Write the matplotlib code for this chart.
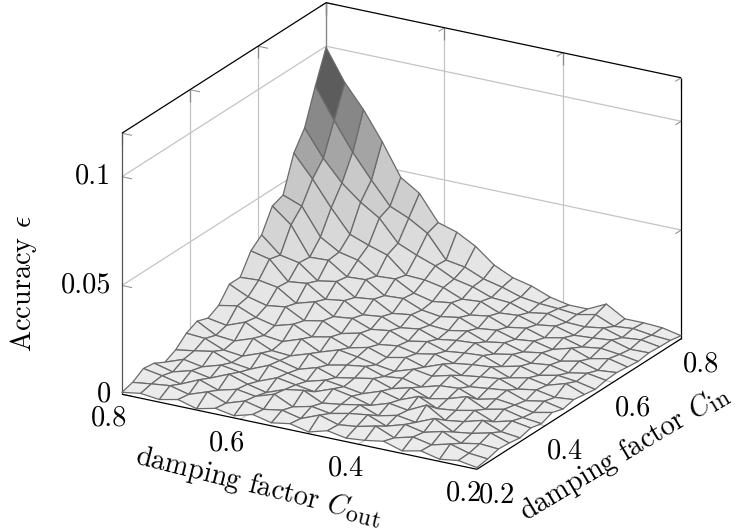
#!/usr/bin/env python3
import numpy as np
import matplotlib
matplotlib.use("Agg")
import matplotlib.pyplot as plt
import matplotlib._mathtext as mathtext_internals
from matplotlib.colors import LinearSegmentedColormap
from mpl_toolkits.mplot3d import proj3d

plt.rcParams["font.family"] = ["cmr10", "DejaVu Serif"]
plt.rcParams["mathtext.fontset"] = "cm"
mathtext_internals.SHRINK_FACTOR = 0.85  # subscripts are large in the original

c_in = np.linspace(0.8, 0.2, 20)
c_out = np.linspace(0.8, 0.2, 20)
accuracy = np.array([
    [.0994, .0851, .0745, .0616, .0469, .0414, .0298, .0272, .0225, .0157, .0117, .0097, .0064, .0046, .0046, .0087, .0037, .0037, .0032, .0014],
    [.0848, .0709, .0580, .0470, .0368, .0331, .0280, .0175, .0161, .0125, .0105, .0078, .0066, .0061, .0052, .0070, .0034, .0042, .0030, .0024],
    [.0687, .0566, .0470, .0400, .0345, .0248, .0211, .0180, .0138, .0120, .0089, .0083, .0056, .0070, .0048, .0045, .0058, .0032, .0040, .0026],
    [.0603, .0502, .0387, .0284, .0252, .0225, .0151, .0147, .0130, .0095, .0102, .0068, .0075, .0050, .0062, .0038, .0044, .0052, .0028, .0030],
    [.0442, .0409, .0285, .0234, .0215, .0160, .0165, .0118, .0098, .0110, .0072, .0085, .0052, .0066, .0040, .0058, .0034, .0046, .0036, .0022],
    [.0423, .0354, .0224, .0228, .0170, .0175, .0120, .0125, .0090, .0078, .0092, .0060, .0070, .0046, .0056, .0036, .0060, .0030, .0048, .0028],
    [.0322, .0247, .0230, .0165, .0180, .0125, .0135, .0088, .0100, .0070, .0064, .0080, .0048, .0062, .0038, .0052, .0032, .0050, .0026, .0034],
    [.0280, .0260, .0175, .0185, .0130, .0142, .0095, .0105, .0072, .0084, .0055, .0068, .0074, .0042, .0058, .0036, .0046, .0028, .0044, .0030],
    [.0190, .0195, .0180, .0125, .0150, .0100, .0110, .0078, .0090, .0060, .0076, .0050, .0060, .0066, .0034, .0054, .0030, .0048, .0038, .0020],
    [.0190, .0150, .0128, .0140, .0095, .0112, .0072, .0092, .0058, .0070, .0052, .0068, .0044, .0056, .0064, .0032, .0050, .0034, .0060, .0028],
    [.0124, .0140, .0105, .0085, .0110, .0070, .0088, .0056, .0076, .0048, .0066, .0040, .0072, .0038, .0050, .0060, .0030, .0044, .0028, .0036],
    [.0097, .0082, .0115, .0072, .0062, .0092, .0050, .0078, .0064, .0046, .0034, .0062, .0048, .0070, .0036, .0046, .0056, .0026, .0042, .0024],
    [.0115, .0068, .0060, .0090, .0052, .0046, .0074, .0040, .0058, .0070, .0042, .0052, .0030, .0054, .0060, .0028, .0048, .0038, .0022, .0040],
    [.0091, .0085, .0050, .0040, .0072, .0056, .0034, .0060, .0032, .0048, .0064, .0036, .0058, .0026, .0044, .0072, .0032, .0050, .0030, .0020],
    [.0046, .0060, .0075, .0042, .0030, .0066, .0048, .0028, .0052, .0040, .0026, .0056, .0034, .0068, .0030, .0040, .0058, .0024, .0046, .0032],
    [.0021, .0052, .0036, .0062, .0048, .0024, .0058, .0044, .0030, .0062, .0046, .0022, .0050, .0036, .0078, .0026, .0038, .0062, .0028, .0018],
    [.0048, .0026, .0050, .0034, .0070, .0042, .0022, .0054, .0068, .0028, .0040, .0056, .0024, .0044, .0030, .0066, .0022, .0034, .0054, .0026],
    [.0055, .0040, .0020, .0058, .0028, .0050, .0036, .0064, .0024, .0044, .0030, .0048, .0060, .0026, .0052, .0034, .0056, .0020, .0036, .0030],
    [.0023, .0034, .0044, .0022, .0052, .0018, .0046, .0026, .0040, .0020, .0054, .0028, .0038, .0058, .0022, .0044, .0026, .0048, .0024, .0016],
    [.0009, .0022, .0012, .0030, .0006, .0026, .0010, .0034, .0014, .0028, .0008, .0032, .0016, .0024, .0038, .0012, .0030, .0010, .0022, .0008],
])
xy_ticks = [0.2, 0.4, 0.6, 0.8]
xy_labels = ["0.2", "0.4", "0.6", "0.8"]
z_ticks = [0, 0.05, 0.1]
z_labels = ["0", "0.05", "0.1"]

X_LO, X_HI = 0.2, 0.8
Z_LO, Z_HI = 0, 0.12
FRAME = "black"
GRID = "#c4c4c4"
TICK = "#8a8a8a"
CMAP_TOP = 0.085

# grey steps as in the original, stops given in accuracy units
stops = [(0, "#ececec"), (0.018, "#e4e4e4"), (0.03, "#d8d8d8"), (0.042, "#cbcbcb"),
         (0.05, "#c8c8c8"), (0.057, "#a6a6a6"), (0.061, "#a4a4a4"), (0.069, "#8a8a8a"),
         (0.073, "#868686"), (0.085, "#5c5c5c")]
cmap = LinearSegmentedColormap.from_list("acc", [(v / CMAP_TOP, c) for v, c in stops])

fig = plt.figure(figsize=(7.36, 5.31), dpi=100)
# oversized square axes, the box is placed with zoom and the axes position
side = 900
ax = fig.add_axes([(401.5 - 0.5135 * side) / 736, (295 - 0.5135 * side) / 531,
                   side / 736, side / 531], projection="3d")
ax.set_proj_type("ortho")
ax.view_init(elev=21.57, azim=-60.1)
ax.set_box_aspect((409.6, 409.6, 280.7), zoom=624.8 / side)
ax.set_xlim(X_HI, X_LO)
ax.set_ylim(X_LO, X_HI)
ax.set_zlim(Z_LO, Z_HI)
ax.set_axis_off()
ax.computed_zorder = False


def seg(x, y, z, color, lw=0.9, zorder=1):
    ax.plot(x, y, z, color=color, lw=lw, zorder=zorder, solid_capstyle="butt")


# grid on back walls and floor
for t in xy_ticks[1:-1]:
    seg([X_HI, X_HI], [t, t], [Z_LO, Z_HI], GRID)
    seg([t, t], [X_HI, X_HI], [Z_LO, Z_HI], GRID)
    seg([X_LO, X_HI], [t, t], [Z_LO, Z_LO], GRID)
    seg([t, t], [X_LO, X_HI], [Z_LO, Z_LO], GRID)
for t in z_ticks[1:]:
    seg([X_HI, X_HI], [X_LO, X_HI], [t, t], GRID)
    seg([X_LO, X_HI], [X_HI, X_HI], [t, t], GRID)

# tick marks
dxy = 0.017
dz = 0.0055
for t in xy_ticks:
    seg([X_HI, X_HI - dxy], [t, t], [Z_HI, Z_HI], TICK, 0.7)
    seg([t, t], [X_HI, X_HI - dxy], [Z_HI, Z_HI], TICK, 0.7)
    seg([X_HI, X_HI], [t, t], [Z_HI, Z_HI - dz], TICK, 0.9)
    seg([t, t], [X_HI, X_HI], [Z_HI, Z_HI - dz], TICK, 0.9)
for t in z_ticks:
    seg([X_HI, X_HI - dxy], [X_LO, X_LO], [t, t], TICK, 0.7)
    seg([X_LO, X_LO], [X_HI, X_HI - dxy], [t, t], TICK, 0.7)

# box
seg([X_HI, X_HI], [X_LO, X_LO], [Z_LO, Z_HI], "#555555")
seg([X_HI, X_HI], [X_HI, X_HI], [Z_LO, Z_HI], "#888888", 1.0)
seg([X_LO, X_LO], [X_HI, X_HI], [Z_LO, Z_HI], FRAME)
seg([X_HI, X_HI], [X_LO, X_HI], [Z_HI, Z_HI], FRAME)
seg([X_HI, X_LO], [X_HI, X_HI], [Z_HI, Z_HI], FRAME)
seg([X_HI, X_LO], [X_LO, X_LO], [Z_LO, Z_LO], FRAME)
seg([X_LO, X_LO], [X_LO, X_HI], [Z_LO, Z_LO], FRAME)

Cout, Cin = np.meshgrid(c_out, c_in)
cell = (accuracy[:-1, :-1] + accuracy[1:, :-1] + accuracy[:-1, 1:] + accuracy[1:, 1:]) / 4
faces = cmap(np.clip(cell / CMAP_TOP, 0, 1))
ax.plot_surface(Cout, Cin, accuracy, facecolors=faces, edgecolor="#6a6a6a",
                linewidth=0.9, rstride=1, cstride=1, shade=False, zorder=2,
                antialiased=True)

proj = ax.get_proj()


def label(x, y, z, text, dx, dy, **kw):
    xp, yp, _ = proj3d.proj_transform(x, y, z, proj)
    kw.setdefault("ha", "center")
    kw.setdefault("va", "center")
    ax.annotate(text, (xp, yp), xytext=(dx, dy), textcoords="offset pixels",
                fontsize=20.4, annotation_clip=False, rotation_mode="anchor", **kw)


for t, s in zip(xy_ticks, xy_labels):
    label(t, X_LO, Z_LO, s, -13, -24)
    label(X_LO, t, Z_LO, s, 20, -26)
for t, s in zip(z_ticks, z_labels):
    label(X_HI, X_LO, t, s, -11, 0, ha="right")

label(0.5, X_LO, Z_LO, r"damping factor $C_{\mathrm{out}}$", -41, -55, rotation=-14)
label(X_LO, 0.5, Z_LO, r"damping factor $C_{\mathrm{in}}$", 46, -49, rotation=31)
label(X_HI, X_LO, 0.06, r"Accuracy $\epsilon$", -98, -20, rotation=90)

fig.savefig("out.png", dpi=100)
